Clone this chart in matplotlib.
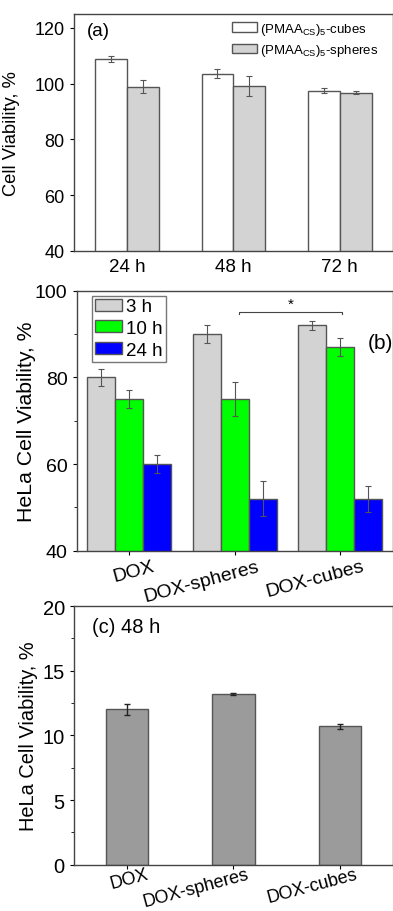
import numpy as np
import matplotlib
matplotlib.use("Agg")
import matplotlib.pyplot as plt

plt.rcParams["font.family"] = ["Liberation Sans", "DejaVu Sans"]

# (a) blank particles
times_a = ["24 h", "48 h", "72 h"]
cubes_a = [108.8, 103.5, 97.4]
cubes_a_err = [1.0, 1.6, 0.9]
spheres_a = [98.9, 99.1, 96.8]
spheres_a_err = [2.3, 3.5, 0.4]

# (b) HeLa, DOX loaded
groups = ["DOX", "DOX-spheres", "DOX-cubes"]
h3 = [80, 90, 92]
h3_err = [2, 2, 1]
h10 = [75, 75, 87]
h10_err = [2, 4, 2]
h24 = [60, 52, 52]
h24_err = [2, 4, 3]

# (c) 48 h
c48 = [12.0, 13.2, 10.7]
c48_err = [0.4, 0.08, 0.2]

edge = "#555555"
ekw = dict(ecolor="#555555", elinewidth=0.8, capsize=2.5, capthick=0.8)


def xlabels(ax, labels, shifts, drop, size):
    # tilted category labels, nudged like the original figure
    ax.set_xticklabels([])
    for i, (lab, dx) in enumerate(zip(labels, shifts)):
        ax.annotate(lab, xy=(i, 0), xycoords=("data", "axes fraction"),
                    xytext=(dx, -drop), textcoords="offset pixels",
                    ha="center", va="top", rotation=15, fontsize=size)


fig = plt.figure(figsize=(3.93, 9.12), dpi=100)

# ---- panel a
ax = fig.add_axes([0.188, 0.7237, 0.812, 0.2599])
x = np.arange(3)
w = 0.3
ax.bar(x - w / 2, cubes_a, w, yerr=cubes_a_err, color="white", edgecolor=edge,
       linewidth=1, error_kw=ekw, label="(PMAA$_{\\mathregular{CS}}$)$_{\\mathregular{5}}$-cubes")
ax.bar(x + w / 2, spheres_a, w, yerr=spheres_a_err, color="#d3d3d3", edgecolor=edge,
       linewidth=1, error_kw=ekw, label="(PMAA$_{\\mathregular{CS}}$)$_{\\mathregular{5}}$-spheres")
ax.set_xlim(-0.5, 2.5)
ax.set_ylim(40, 125)
ax.set_yticks([40, 60, 80, 100, 120])
ax.set_xticks(x)
ax.set_xticklabels(times_a, fontsize=13.5)
ax.tick_params(axis="x", length=0, pad=5)
ax.tick_params(axis="y", labelsize=13, direction="out", length=3)
ax.set_ylabel("Cell Viability, %", fontsize=13.2)
ax.yaxis.set_label_coords(-0.168, 0.5)
ax.text(0.04, 0.93, "(a)", transform=ax.transAxes, fontsize=13.5, va="center")
ax.legend(loc="upper left", bbox_to_anchor=(0.495, 0.972), frameon=False, fontsize=9.5,
          handlelength=1.9, handleheight=0.7, handletextpad=0.25, borderpad=0,
          borderaxespad=0, labelspacing=0.4)

# ---- panel b
ax = fig.add_axes([0.195, 0.395, 0.805, 0.285])
w = 0.266
ax.bar(x - w, h3, w, yerr=h3_err, color="#d3d3d3", edgecolor=edge, linewidth=1,
       error_kw=ekw, label="3 h")
ax.bar(x, h10, w, yerr=h10_err, color="#00ff00", edgecolor=edge, linewidth=1,
       error_kw=ekw, label="10 h")
ax.bar(x + w, h24, w, yerr=h24_err, color="#0000ff", edgecolor=edge, linewidth=1,
       error_kw=ekw, label="24 h")
ax.set_xlim(-0.5, 2.5)
ax.set_ylim(40, 100)
ax.set_yticks([40, 60, 80, 100])
ax.set_yticks([50, 70, 90], minor=True)
ax.set_xticks(x)
xlabels(ax, groups, [4, -33, -25], 7, 14)
ax.tick_params(axis="both", which="major", labelsize=14, direction="out", length=3)
ax.tick_params(axis="y", which="minor", direction="out", length=2)
ax.set_ylabel("HeLa Cell Viability, %", fontsize=15.3)
ax.yaxis.set_label_coords(-0.128, 0.5)
ax.text(0.92, 0.80, "(b)", transform=ax.transAxes, fontsize=15, va="center")
# significance bracket
ax.plot([1.04, 1.04, 2.02, 2.02], [94.7, 95.2, 95.2, 94.7], color="#444444", lw=0.8)
ax.text(1.53, 95.5, "*", ha="center", va="bottom", fontsize=11)
ax.legend(loc="upper left", bbox_to_anchor=(0.05, 0.982), fontsize=13.5,
          handlelength=1.45, handleheight=0.6, handletextpad=0.2, labelspacing=0.25,
          borderpad=0.15, borderaxespad=0, fancybox=False, edgecolor="#777777",
          framealpha=1)

# ---- panel c
ax = fig.add_axes([0.188, 0.0508, 0.812, 0.2836])
ax.bar(x, c48, 0.4, yerr=c48_err, color="#9b9b9b", edgecolor=edge, linewidth=1,
       error_kw=dict(ecolor="#222222", elinewidth=1, capsize=2.5, capthick=1))
ax.set_xlim(-0.5, 2.5)
ax.set_ylim(0, 20)
ax.set_yticks([0, 5, 10, 15, 20])
ax.set_yticks([2.5, 7.5, 12.5, 17.5], minor=True)
ax.set_xticks(x)
xlabels(ax, groups, [2, -38, -28], 1, 13)
ax.tick_params(axis="both", which="major", labelsize=14.5, direction="out", length=3)
ax.tick_params(axis="y", which="minor", direction="out", length=2)
ax.set_ylabel("HeLa Cell Viability, %", fontsize=14.4)
ax.yaxis.set_label_coords(-0.113, 0.5)
ax.text(0.056, 0.919, "(c) 48 h", transform=ax.transAxes, fontsize=14.5, va="center")

for a in fig.axes:
    for s in a.spines.values():
        s.set_color("#444444")
        s.set_linewidth(1)

fig.savefig("out.png", dpi=100)
